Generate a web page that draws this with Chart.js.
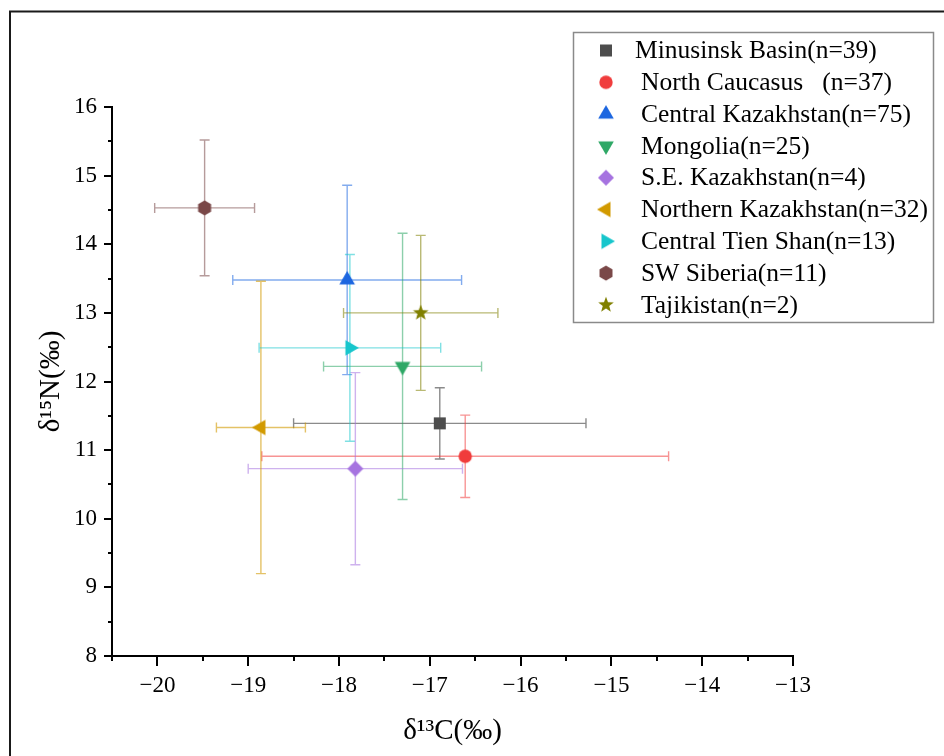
<!DOCTYPE html>
<html>
<head>
<meta charset="utf-8">
<script src="https://cdn.jsdelivr.net/npm/chart.js@4.4.1/dist/chart.umd.min.js"></script>
<style>
  html, body { margin: 0; padding: 0; background: #fff; }
</style>
</head>
<body>
<canvas id="myChart" width="944" height="756"></canvas>
<script>
// groups and their mean / sd values
const groups = [
    'Minusinsk Basin(n=39)',
    'North Caucasus   (n=37)',
    'Central Kazakhstan(n=75)',
    'Mongolia(n=25)',
    'S.E. Kazakhstan(n=4)',
    'Northern Kazakhstan(n=32)',
    'Central Tien Shan(n=13)',
    'SW Siberia(n=11)',
    'Tajikistan(n=2)'
]
const carbonMean = [-16.89, -16.61, -17.91, -17.30, -17.82, -18.86, -17.88, -19.48, -17.10]
const carbonSd = [1.61, 2.24, 1.26, 0.87, 1.18, 0.49, 1.00, 0.55, 0.85]
const nitrogenMean = [11.39, 10.91, 13.48, 12.22, 10.73, 11.33, 12.49, 14.53, 13.00]
const nitrogenSd = [0.52, 0.60, 1.38, 1.94, 1.40, 2.13, 1.36, 0.99, 1.13]

const xTickValues = [-20, -19, -18, -17, -16, -15, -14, -13]
const xTickLabels = ['\u221220', '\u221219', '\u221218', '\u221217', '\u221216', '\u221215', '\u221214', '\u221213']
const yTickValues = [8, 9, 10, 11, 12, 13, 14, 15, 16]
const yTickLabels = ['8', '9', '10', '11', '12', '13', '14', '15', '16']

const markerColors = ['#4d4d4d', '#f03c3c', '#1c66e0', '#2ea866', '#a673e0', '#d29a00', '#17c6cc', '#7a4848', '#808000']
const barColors = [
    'rgba(77,77,77,0.65)', 'rgba(240,60,60,0.55)', 'rgba(28,102,224,0.55)',
    'rgba(46,168,102,0.55)', 'rgba(166,115,224,0.55)', 'rgba(210,154,0,0.6)',
    'rgba(23,198,204,0.55)', 'rgba(122,72,72,0.55)', 'rgba(128,128,0,0.55)'
]
const markerShapes = ['square', 'circle', 'triUp', 'triDown', 'diamond', 'triLeft', 'triRight', 'hexagon', 'star']

const serif = "'Liberation Serif', 'Times New Roman', serif"

//build a little canvas for each marker shape
const makeMarker = (shape, color) => {
    const c = document.createElement('canvas')
    c.width = 24
    c.height = 24
    const ctx = c.getContext('2d')
    ctx.fillStyle = color
    ctx.translate(12, 12)
    ctx.beginPath()
    if (shape === 'square') {
        ctx.rect(-6, -6, 12, 12)
    } else if (shape === 'circle') {
        ctx.arc(0, 0, 6.7, 0, Math.PI * 2)
    } else if (shape.startsWith('tri')) {
        const rot = { triUp: 0, triRight: 90, triDown: 180, triLeft: 270 }[shape] * Math.PI / 180
        for (let k = 0; k < 3; k++) {
            const a = rot + k * 2 * Math.PI / 3
            ctx.lineTo(Math.sin(a) * 9, -Math.cos(a) * 9)
        }
    } else if (shape === 'diamond') {
        ctx.moveTo(0, -8)
        ctx.lineTo(8, 0)
        ctx.lineTo(0, 8)
        ctx.lineTo(-8, 0)
    } else if (shape === 'hexagon') {
        for (let k = 0; k < 6; k++) {
            const a = k * Math.PI / 3
            ctx.lineTo(Math.sin(a) * 7.5, -Math.cos(a) * 7.5)
        }
    } else if (shape === 'star') {
        for (let k = 0; k < 10; k++) {
            const r = k % 2 ? 3.4 : 8.2
            const a = k * Math.PI / 5
            ctx.lineTo(Math.sin(a) * r, -Math.cos(a) * r)
        }
    }
    ctx.closePath()
    ctx.fill()
    return c
}
const markers = markerShapes.map((s, i) => makeMarker(s, markerColors[i]))

//outer frame (top + left line)
const frame = {
    id: 'frame',
    beforeDraw(chart) {
        const ctx = chart.ctx
        ctx.save()
        ctx.strokeStyle = '#1a1a1a'
        ctx.lineWidth = 2
        ctx.beginPath()
        ctx.moveTo(944, 11.5)
        ctx.lineTo(10, 11.5)
        ctx.lineTo(10, 756)
        ctx.stroke()
        ctx.restore()
    }
}

//x and y error bars with caps
const errorBars = {
    id: 'errorBars',
    beforeDatasetsDraw(chart) {
        const { ctx, scales: { x, y } } = chart
        ctx.save()
        ctx.lineWidth = 1.4
        groups.forEach((g, i) => {
            const cx = x.getPixelForValue(carbonMean[i])
            const cy = y.getPixelForValue(nitrogenMean[i])
            const x0 = x.getPixelForValue(carbonMean[i] - carbonSd[i])
            const x1 = x.getPixelForValue(carbonMean[i] + carbonSd[i])
            const y0 = y.getPixelForValue(nitrogenMean[i] - nitrogenSd[i])
            const y1 = y.getPixelForValue(nitrogenMean[i] + nitrogenSd[i])
            ctx.strokeStyle = barColors[i]
            ctx.beginPath()
            ctx.moveTo(x0, cy)
            ctx.lineTo(x1, cy)
            ctx.moveTo(x0, cy - 5)
            ctx.lineTo(x0, cy + 5)
            ctx.moveTo(x1, cy - 5)
            ctx.lineTo(x1, cy + 5)
            ctx.stroke()
            ctx.beginPath()
            ctx.moveTo(cx, y0)
            ctx.lineTo(cx, y1)
            ctx.moveTo(cx - 5, y0)
            ctx.lineTo(cx + 5, y0)
            ctx.moveTo(cx - 5, y1)
            ctx.lineTo(cx + 5, y1)
            ctx.stroke()
        })
        ctx.restore()
    }
}

//outward tick marks, long on whole numbers, short on halves
const tickMarks = {
    id: 'tickMarks',
    afterDraw(chart) {
        const { ctx, scales: { x, y } } = chart
        ctx.save()
        ctx.strokeStyle = '#000'
        ctx.lineWidth = 2
        ctx.beginPath()
        x.ticks.forEach((t) => {
            const px = Math.round(x.getPixelForValue(t.value))
            const len = Number.isInteger(t.value) ? 10 : 5
            ctx.moveTo(px, x.top)
            ctx.lineTo(px, x.top + len)
        })
        y.ticks.forEach((t) => {
            const py = Math.round(y.getPixelForValue(t.value))
            const len = Number.isInteger(t.value) ? 8 : 4
            ctx.moveTo(y.right, py)
            ctx.lineTo(y.right - len, py)
        })
        ctx.stroke()
        ctx.restore()
    }
}

//boxed legend in the upper right
const boxLegend = {
    id: 'boxLegend',
    afterDraw(chart) {
        const ctx = chart.ctx
        ctx.save()
        ctx.strokeStyle = '#8a8a8a'
        ctx.lineWidth = 1.5
        ctx.strokeRect(573.5, 32.5, 360, 290)
        ctx.font = '25.5px ' + serif
        ctx.fillStyle = '#000'
        ctx.textBaseline = 'middle'
        groups.forEach((g, i) => {
            const rowY = 50.5 + i * 31.8
            ctx.drawImage(markers[i], 606 - 12, rowY - 12)
            ctx.fillText(g, i === 0 ? 635 : 641, rowY + 1)
        })
        ctx.restore()
    }
}

const datasets = groups.map((g, i) => ({
    label: g,
    data: [{ x: carbonMean[i], y: nitrogenMean[i] }],
    pointStyle: markers[i],
    pointRadius: 8,
    pointHoverRadius: 8,
    backgroundColor: markerColors[i],
    borderColor: markerColors[i]
}))

const config = {
    type: 'scatter',
    data: { datasets: datasets },
    options: {
        responsive: false,
        animation: false,
        layout: { padding: { top: 107, right: 151, bottom: 0, left: 0 } },
        plugins: {
            legend: { display: false },
            tooltip: { enabled: false }
        },
        scales: {
            x: {
                type: 'linear',
                min: -20.5,
                max: -13,
                grid: { display: false, drawTicks: false },
                border: { display: true, color: '#000', width: 2 },
                ticks: {
                    stepSize: 0.5,
                    autoSkip: false,
                    maxRotation: 0,
                    padding: 16,
                    color: '#000',
                    font: { family: serif, size: 23 },
                    callback: (v) => {
                        const k = xTickValues.indexOf(v)
                        return k >= 0 ? xTickLabels[k] : ''
                    }
                },
                title: {
                    display: true,
                    text: 'δ¹³C(‰)',
                    color: '#000',
                    font: { family: serif, size: 29 },
                    padding: { top: 0, bottom: 7 }
                },
                afterFit: (scale) => { scale.height = 100 }
            },
            y: {
                type: 'linear',
                min: 8,
                max: 16,
                grid: { display: false, drawTicks: false },
                border: { display: true, color: '#000', width: 2 },
                ticks: {
                    stepSize: 0.5,
                    autoSkip: false,
                    padding: 15,
                    color: '#000',
                    font: { family: serif, size: 23 },
                    callback: (v) => {
                        const k = yTickValues.indexOf(v)
                        return k >= 0 ? yTickLabels[k] : ''
                    }
                },
                title: {
                    display: true,
                    text: 'δ¹⁵N(‰)',
                    color: '#000',
                    font: { family: serif, size: 29 },
                    padding: { top: 34, bottom: 0 }
                },
                afterFit: (scale) => { scale.width = 112 }
            }
        }
    },
    plugins: [frame, errorBars, tickMarks, boxLegend]
}

document.addEventListener('DOMContentLoaded', () => {
    new Chart(document.querySelector('#myChart'), config)
})
</script>
</body>
</html>
